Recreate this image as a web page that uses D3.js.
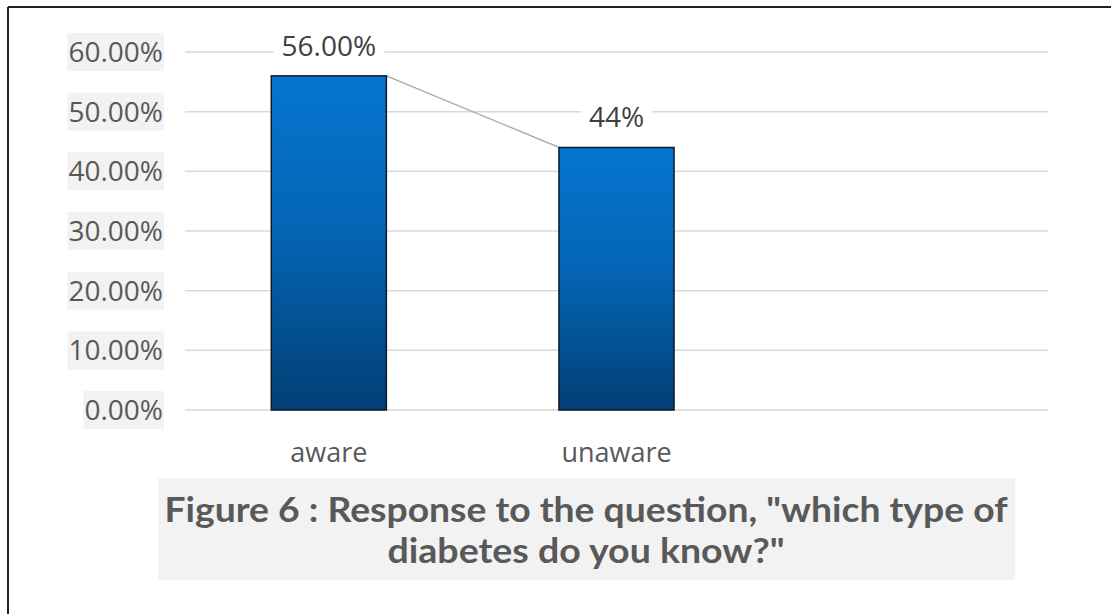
<!DOCTYPE html>
<html>
<head>
<meta charset="utf-8">
<script src="https://cdn.jsdelivr.net/npm/d3@7"></script>
<style>
  body { margin: 0; background: #fff; }
  svg { display: block; }
</style>
</head>
<body>
<div id="chart"></div>
<script>
// data
const categories = ["aware", "unaware", ""];
const values = [0.56, 0.44];
const valueLabels = ["56.00%", "44%"];
const yTicks = [0, 0.1, 0.2, 0.3, 0.4, 0.5, 0.6];
const titleLines = ['Figure 6 : Response to the question, "which type of', 'diabetes do you know?"'];

const W = 1111, H = 614;
const margin = {top: 52, left: 185, right: 63, bottom: 204};
const width = W - margin.left - margin.right,
      height = H - margin.top - margin.bottom;

const svg = d3.select("#chart").append("svg")
    .attr("width", W)
    .attr("height", H);

// outer frame
svg.append("line").attr("x1", 8).attr("y1", 7).attr("x2", W).attr("y2", 7)
    .attr("stroke", "#222").attr("stroke-width", 2);
svg.append("line").attr("x1", 8).attr("y1", 7).attr("x2", 8).attr("y2", H)
    .attr("stroke", "#222").attr("stroke-width", 2);

const defs = svg.append("defs");
const grad = defs.append("linearGradient")
    .attr("id", "barGrad")
    .attr("x1", 0).attr("y1", 0).attr("x2", 0).attr("y2", 1);
grad.append("stop").attr("offset", "0%").attr("stop-color", "#0575d0");
grad.append("stop").attr("offset", "45%").attr("stop-color", "#0466b6");
grad.append("stop").attr("offset", "100%").attr("stop-color", "#033f75");

const g = svg.append("g")
    .attr("transform", "translate(" + margin.left + "," + margin.top + ")");

const x = d3.scaleBand().domain(categories).range([0, width])
    .paddingInner(0.6).paddingOuter(0.3);
const y = d3.scaleLinear().domain([0, 0.6]).range([height, 0]);

// gridlines
g.selectAll(".grid")
    .data(yTicks)
    .enter().append("line")
    .attr("class", "grid")
    .attr("x1", 0).attr("x2", width)
    .attr("y1", d => y(d)).attr("y2", d => y(d))
    .attr("stroke", "#d9d9d9")
    .attr("stroke-width", 1.5);

// y tick labels with grey background
const fmt = d3.format(".2%");
const tick = g.selectAll(".ytick")
    .data(yTicks)
    .enter().append("g")
    .attr("class", "ytick")
    .attr("transform", d => "translate(-22," + y(d) + ")");

tick.append("text")
    .attr("text-anchor", "end")
    .attr("dy", "0.36em")
    .attr("font-family", "Open Sans, sans-serif")
    .attr("font-size", 28)
    .attr("fill", "#595959")
    .text(d => fmt(d));

tick.each(function() {
    const t = d3.select(this).select("text");
    const bb = t.node().getBBox();
    d3.select(this).insert("rect", "text")
        .attr("x", bb.x - 1).attr("y", -19)
        .attr("width", bb.width + 2).attr("height", 38)
        .attr("fill", "#f2f2f2");
});

// connecting line between bar tops
g.append("line")
    .attr("x1", x(categories[0]) + x.bandwidth())
    .attr("y1", y(values[0]))
    .attr("x2", x(categories[1]))
    .attr("y2", y(values[1]))
    .attr("stroke", "#a6a6a6")
    .attr("stroke-width", 1.3);

// bars
g.selectAll(".bar")
    .data(values)
    .enter().append("rect")
    .attr("class", "bar")
    .attr("x", (d, i) => x(categories[i]))
    .attr("y", d => y(d))
    .attr("width", x.bandwidth())
    .attr("height", d => height - y(d))
    .attr("fill", "url(#barGrad)")
    .attr("stroke", "#0d1a2b")
    .attr("stroke-width", 1.5);

// value labels with white background
const vl = g.selectAll(".vlabel")
    .data(values)
    .enter().append("g")
    .attr("class", "vlabel")
    .attr("transform", (d, i) => "translate(" + (x(categories[i]) + x.bandwidth() / 2) + "," + (y(d) - 20) + ")");

vl.append("text")
    .attr("text-anchor", "middle")
    .attr("font-family", "Open Sans, sans-serif")
    .attr("font-size", 28)
    .attr("fill", "#404040")
    .text((d, i) => valueLabels[i]);

vl.each(function() {
    const bb = d3.select(this).select("text").node().getBBox();
    d3.select(this).insert("rect", "text")
        .attr("x", bb.x - 8).attr("y", bb.y)
        .attr("width", bb.width + 16).attr("height", bb.height)
        .attr("fill", "#fff");
});

// category labels
g.selectAll(".xlabel")
    .data(categories.filter(c => c))
    .enter().append("text")
    .attr("class", "xlabel")
    .attr("x", d => x(d) + x.bandwidth() / 2)
    .attr("y", height + 42)
    .attr("dy", "0.36em")
    .attr("text-anchor", "middle")
    .attr("font-family", "Open Sans, sans-serif")
    .attr("font-size", 27)
    .attr("fill", "#595959")
    .text(d => d);

// caption box
svg.append("rect")
    .attr("x", 158).attr("y", 478)
    .attr("width", 857).attr("height", 102)
    .attr("fill", "#f2f2f2");

svg.selectAll(".title")
    .data(titleLines)
    .enter().append("text")
    .attr("class", "title")
    .attr("x", 586)
    .attr("y", (d, i) => 522 + i * 41)
    .attr("text-anchor", "middle")
    .attr("font-family", "Lato, sans-serif")
    .attr("font-weight", "bold")
    .attr("font-size", 34)
    .attr("fill", "#595959")
    .attr("textLength", (d, i) => i === 0 ? 843 : 397)
    .attr("lengthAdjust", "spacingAndGlyphs")
    .text(d => d);
</script>
</body>
</html>
